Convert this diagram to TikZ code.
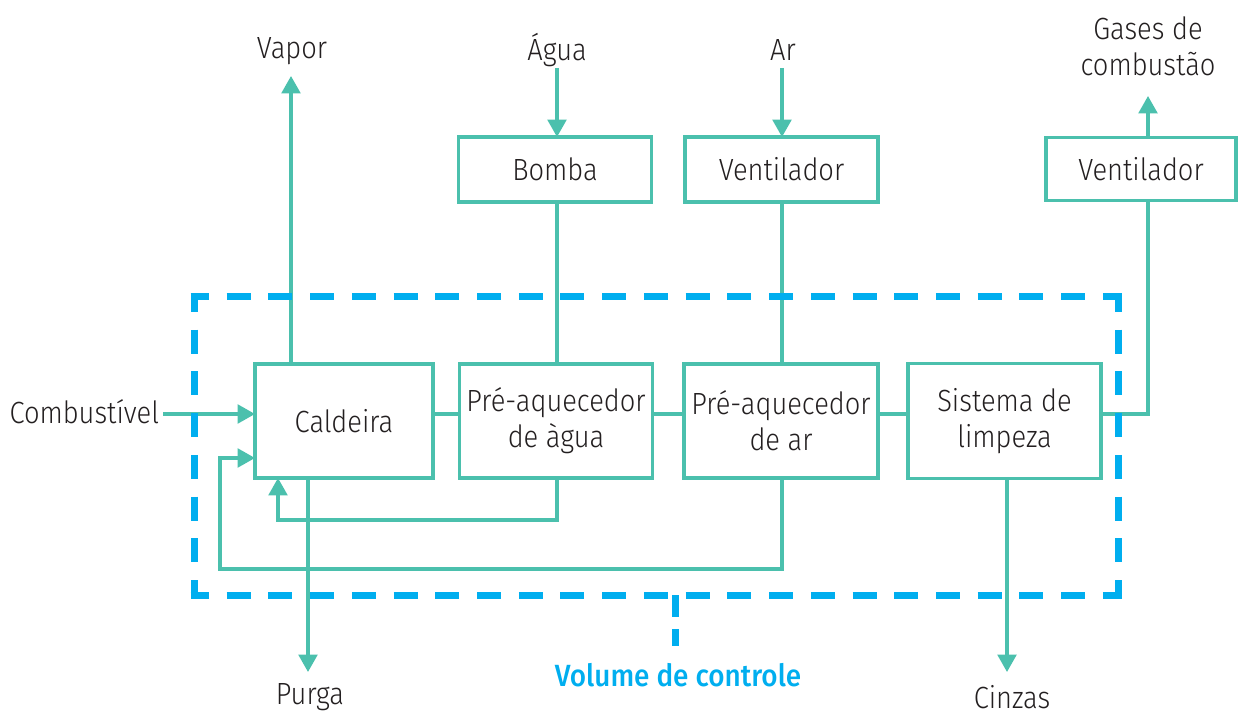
\documentclass[tikz,border=0pt]{standalone}
\usepackage{fontspec}
\setmainfont{Fira Sans Light}[FakeStretch=0.89]
\newfontfamily\vcfont{Fira Sans Medium}[FakeStretch=0.91]
\usetikzlibrary{arrows.meta,calc}
\definecolor{teal1}{HTML}{4BC0AD}
\definecolor{blue1}{HTML}{00AEEF}
\definecolor{ink}{HTML}{231F20}
\begin{document}
\begin{tikzpicture}[x=0.75pt,y=-0.75pt,
  every node/.style={text=ink, font=\fontsize{23}{27}\selectfont, inner sep=0pt, outer sep=0pt},
  box/.style={draw=teal1, line width=2.7pt, fill=white, align=center},
  conn/.style={draw=teal1, line width=2.4pt},
  arr/.style={conn, -{Triangle[width=14pt,length=13pt]}},
  vcbase/.style={draw=blue1, line width=5.25pt},
  vcside/.style={vcbase, dash pattern=on 18pt off 13.29pt, dash phase=6.75pt},
  vchor/.style={vcbase, dash pattern=on 18pt off 13.29pt, dash phase=4.125pt},
  vcstub/.style={vcbase, dash pattern=on 16.5pt off 9pt},
  lbl/.style={align=center}]
\useasboundingbox (0,0) rectangle (1238,716);
% boxes
\node[box, minimum width=133.5pt, minimum height=85.5pt] (cal) at (344,421) {Caldeira};
\node[box, minimum width=145pt, minimum height=85.5pt] (pag) at (556,421) {Pré-aquecedor\\de àgua};
\node[box, minimum width=145.5pt, minimum height=85.5pt] (par) at (781,421) {Pré-aquecedor\\de ar};
\node[box, minimum width=145pt, minimum height=86pt] (sis) at (1004.5,421) {Sistema de\\limpeza};
\node[box, minimum width=145pt, minimum height=48.75pt] (bom) at (555,169.5) {Bomba};
\node[box, minimum width=145pt, minimum height=48.75pt] (ven1) at (781.5,169.5) {Ventilador};
\node[box, minimum width=142.5pt, minimum height=47pt] (ven2) at (1141,169) {Ventilador};
% labels
\node (vap) at (292,51) {Vapor};
\node (agu) at (557,50) {Água};
\node (ar) at (783,50) {Ar};
\node[lbl] (gas) at (1148,46) {Gases de\\combustão};
\node[anchor=east] (comb) at (159,412) {Combustível};
\node (pur) at (310,697) {Purga};
\node (cin) at (1012,697) {Cinzas};
\node[text=blue1, font=\vcfont\fontsize{23}{27}\selectfont] (vc) at (678,675) {Volume de controle};
% coordinates
\coordinate (h) at (0,414);
\coordinate (vapT) at (291,76);
\coordinate (aguS) at (557,68);
\coordinate (arS) at (782,68);
\coordinate (gasT) at (1148,96);
\coordinate (combS) at (163,414);
\coordinate (fb1) at (278,520);
\coordinate (fb2a) at (782,569);
\coordinate (fb2b) at (220,569);
\coordinate (fb2c) at (220,458);
\coordinate (purT) at (308,672);
\coordinate (cinT) at (1007,672);
\coordinate (col) at (1148,0);
% connectors
\draw[arr] (cal.north -| vapT) -- (vapT);
\draw[arr] (aguS) -- (bom.north -| aguS);
\draw[arr] (arS) -- (ven1.north -| arS);
\draw[conn] (bom.south -| aguS) -- (pag.north -| aguS);
\draw[conn] (ven1.south -| arS) -- (par.north -| arS);
\draw[arr] (ven2.north -| gasT) -- (gasT);
\draw[arr] (combS) -- (cal.west |- h);
\draw[conn] (cal.east |- h) -- (pag.west |- h);
\draw[conn] (pag.east |- h) -- (par.west |- h);
\draw[conn] (par.east |- h) -- (sis.west |- h);
\draw[conn] (sis.east |- h) -| (ven2.south -| col);
\draw[arr] (pag.south -| aguS) |- (fb1) -- (fb1 |- cal.south);
\draw[arr] (par.south -| arS) -- (fb2a) -- (fb2b) -- (fb2c) -- (cal.west |- fb2c);
\draw[arr] (cal.south -| purT) -- (purT);
\draw[arr] (sis.south -| cinT) -- (cinT);
% control volume
\coordinate (vtl) at (194,297);
\coordinate (vtr) at (1118,297);
\coordinate (vbl) at (194,595);
\coordinate (vbr) at (1118,595);
\draw[vchor] ($(vtl)+(-3.5,0)$) -- ($(vtr)+(3.5,0)$);
\draw[vchor] ($(vbl)+(-3.5,0)$) -- ($(vbr)+(3.5,0)$);
\draw[vcside] (vtl) -- (vbl);
\draw[vcside] (vtr) -- (vbr);
\coordinate (stubB) at (675,646);
\draw[vcstub] (stubB |- vbl) -- (stubB);
\end{tikzpicture}
\end{document}
